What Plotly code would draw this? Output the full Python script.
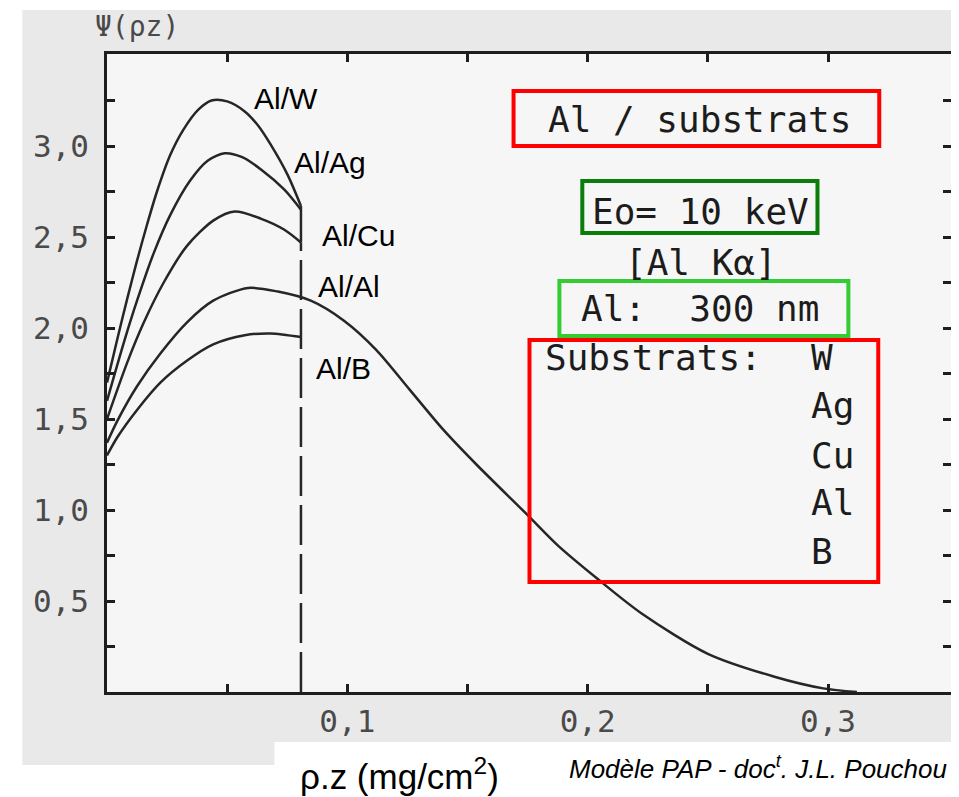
import plotly.graph_objects as go

# ---------------- data ----------------
substrates = ["W", "Ag", "Cu", "Al", "B"]

x_W = [0, 0.0043, 0.0084, 0.0125, 0.0167, 0.0208, 0.0263, 0.0318, 0.038, 0.0435, 0.050, 0.0573, 0.063, 0.068, 0.0752, 0.0807]
y_W = [1.70, 1.94, 2.16, 2.37, 2.57, 2.75, 2.95, 3.09, 3.20, 3.25, 3.245, 3.19, 3.11, 3.01, 2.84, 2.67]

x_Ag = [0, 0.0070, 0.0125, 0.0194, 0.0263, 0.0346, 0.042, 0.049, 0.056, 0.0642, 0.0738, 0.0807]
y_Ag = [1.60, 1.92, 2.15, 2.41, 2.62, 2.81, 2.92, 2.96, 2.94, 2.87, 2.76, 2.65]

x_Cu = [0, 0.0084, 0.0153, 0.0236, 0.0332, 0.0442, 0.0532, 0.0642, 0.0738, 0.0807]
y_Cu = [1.50, 1.81, 2.03, 2.25, 2.45, 2.59, 2.64, 2.60, 2.54, 2.47]

x_Al = [0, 0.0043, 0.0125, 0.0222, 0.0332, 0.0442, 0.0587, 0.0711, 0.0848, 0.0986, 0.112, 0.126, 0.140,
        0.1537, 0.1744, 0.188, 0.2047, 0.2226, 0.250, 0.2777, 0.298, 0.312]
y_Al = [1.37, 1.49, 1.68, 1.86, 2.03, 2.15, 2.22, 2.20, 2.15, 2.04, 1.88, 1.66, 1.44,
        1.25, 0.98, 0.80, 0.615, 0.43, 0.21, 0.084, 0.02, 0.0]

x_B = [0, 0.0043, 0.0125, 0.0222, 0.0332, 0.0442, 0.0573, 0.068, 0.0807]
y_B = [1.30, 1.40, 1.55, 1.70, 1.82, 1.91, 1.96, 1.97, 1.95]

interface_x = 0.0807           # Al film / substrate interface (300 nm of Al)
interface_drop_y = [0.0, 2.47]  # dashed part
interface_step_y = [2.47, 2.67] # solid part at the top

x_tick_vals = [0.10, 0.20, 0.30]
x_tick_text = ["0,1", "0,2", "0,3"]
x_minor_vals = [0.05, 0.15, 0.25]
y_tick_vals = [0.5, 1.0, 1.5, 2.0, 2.5, 3.0]
y_tick_text = ["0,5", "1,0", "1,5", "2,0", "2,5", "3,0"]
y_minor_vals = [0.25, 0.75, 1.25, 1.75, 2.25, 2.75, 3.25]

curve_x = {"W": x_W, "Ag": x_Ag, "Cu": x_Cu, "Al": x_Al, "B": x_B}
curve_y = {"W": y_W, "Ag": y_Ag, "Cu": y_Cu, "Al": y_Al, "B": y_B}

# ---------------- layout geometry (window pixels) ----------------
WIN_W, WIN_H = 959, 797
OFF = 8                      # page body margin of the html page
FW, FH = WIN_W - OFF, WIN_H - OFF
L, R, T, B = 107, 954, 54, 692
PX_PER_X = 2412.0
PX_PER_Y = 182.0


def px(xp):
    return (xp - L) / (R - L)


def py(yp):
    return (B - yp) / (B - T)


LINE = "#262626"
fig = go.Figure()

for s in substrates:
    fig.add_trace(go.Scatter(x=curve_x[s], y=curve_y[s], mode="lines",
                             line=dict(color=LINE, width=2.5, shape="spline", smoothing=0.8),
                             name="Al/" + s, showlegend=False, hoverinfo="skip"))

fig.add_trace(go.Scatter(x=[interface_x, interface_x], y=interface_drop_y, mode="lines",
                         line=dict(color=LINE, width=2.5, dash="40px,9px"),
                         showlegend=False, hoverinfo="skip"))
fig.add_trace(go.Scatter(x=[interface_x, interface_x], y=interface_step_y, mode="lines",
                         line=dict(color=LINE, width=2.5),
                         showlegend=False, hoverinfo="skip"))

TICKFONT = dict(family="DejaVu Sans Mono", size=31, color="#4a4a4a")
TICKCOL = "#1e1e1e"
axis_common = dict(showgrid=False, zeroline=False, showline=True, linecolor=TICKCOL,
                   linewidth=2.5, mirror="allticks", ticks="inside", ticklen=8,
                   tickwidth=2.5, tickcolor=TICKCOL, tickfont=TICKFONT, tickmode="array")

fig.update_xaxes(range=[0, (R - L) / PX_PER_X], tickvals=x_tick_vals, ticktext=x_tick_text,
                 minor=dict(tickmode="array", tickvals=x_minor_vals, ticks="inside", ticklen=8,
                            tickwidth=2.5, tickcolor=TICKCOL, showgrid=False),
                 ticklabelstandoff=0, **axis_common)
fig.update_yaxes(range=[0, (B - T) / PX_PER_Y], tickvals=y_tick_vals, ticktext=y_tick_text,
                 minor=dict(tickmode="array", tickvals=y_minor_vals, ticks="inside", ticklen=8,
                            tickwidth=2.5, tickcolor=TICKCOL, showgrid=False),
                 ticklabelstandoff=9, **axis_common)

shapes = []
# scanned page background
shapes.append(dict(type="rect", xref="paper", yref="paper", x0=px(22), x1=px(970), y0=py(742), y1=py(10),
                   fillcolor="#e9e9e9", line=dict(width=0), layer="below"))
shapes.append(dict(type="rect", xref="paper", yref="paper", x0=px(22), x1=px(275), y0=py(765), y1=py(742),
                   fillcolor="#e9e9e9", line=dict(width=0), layer="below"))
shapes.append(dict(type="rect", xref="paper", yref="paper", x0=0, x1=1, y0=0, y1=1,
                   fillcolor="#f6f6f6", line=dict(width=0), layer="below"))
# coloured boxes
for (x0, y0, x1, y1, col) in [(515, 91, 882, 146, "#ff0000"),
                              (584, 181, 820, 233, "#0a7d0a"),
                              (561, 281, 851, 336, "#33cc33"),
                              (531, 340, 881, 582, "#ff0000")]:
    shapes.append(dict(type="rect", xref="paper", yref="paper", x0=px(x0), x1=px(x1), y0=py(y1), y1=py(y0),
                       line=dict(color=col, width=4), fillcolor="rgba(0,0,0,0)", layer="above"))

ann = []
MONO = dict(family="DejaVu Sans Mono", size=36, color="#1c1c1c")


def add_text(text, xp, yp, font, xanchor="center"):
    ann.append(dict(text=text, x=px(xp), y=py(yp), xref="paper", yref="paper", showarrow=False,
                    xanchor=xanchor, yanchor="middle", font=font))


add_text("Al / substrats", 702, 119, MONO)
add_text("Eo= 10 keV", 703, 212, MONO)
add_text("[Al Kα]", 703, 262, MONO)
add_text("Al:  300 nm", 702, 308, MONO)
add_text("Substrats:", 545, 357, MONO, "left")
sub_y = [357, 405, 455, 502, 551]
for s, yy in zip(substrates, sub_y):
    add_text(s, 811, yy, MONO, "left")

LAB = dict(family="Liberation Sans, Arial", size=30, color="#000000")
label_pos = {"W": (287, 98), "Ag": (331, 162), "Cu": (359, 235), "Al": (350, 286), "B": (344, 368)}
for s in substrates:
    add_text("Al/" + s, label_pos[s][0], label_pos[s][1], LAB)

add_text("Ψ(ρz)", 137, 27, dict(family="DejaVu Sans Mono", size=28, color="#4a4a4a"))
add_text("ρ.z (mg/cm<sup>2</sup>)", 401, 774, dict(family="Liberation Sans, Arial", size=35, color="#000000"))
add_text("<i>Modèle PAP - doc<sup>t</sup>. J.L. Pouchou</i>", 760, 767,
         dict(family="Liberation Sans, Arial", size=26, color="#000000"))

fig.update_layout(width=FW, height=FH, autosize=False,
                  margin=dict(l=L - OFF, r=WIN_W - R, t=T - OFF, b=WIN_H - B, pad=0),
                  paper_bgcolor="#ffffff", plot_bgcolor="rgba(0,0,0,0)",
                  shapes=shapes, annotations=ann, showlegend=False)

fig.write_html("out.html")
